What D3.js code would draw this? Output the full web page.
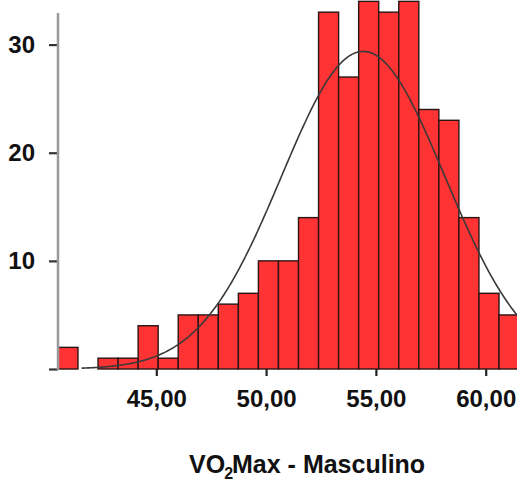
<!DOCTYPE html>
<html>
<head>
<meta charset="utf-8">
<script src="https://cdn.jsdelivr.net/npm/d3@7/dist/d3.min.js"></script>
<style>
  html, body { margin: 0; padding: 0; background: #fff; }
  svg { display: block; }
  text { font-family: "Liberation Sans", Arial, Helvetica, sans-serif; font-weight: bold; fill: #111; }
</style>
</head>
<body>
<svg id="chart" width="517" height="482"></svg>
<script>
// ---- data ----
const binStart = 40.52;      // lower edge of first bin (VO2Max units)
const binWidth = 0.913;      // width of each bin
const counts = [2, 0, 1, 1, 4, 1, 5, 5, 6, 7, 10, 10, 14, 33, 27, 34, 33, 34, 24, 23, 14, 7, 5];
const xTicks = [45, 50, 55, 60];
const yTicks = [0, 10, 20, 30];
const yTickLabels = ["", "10", "20", "30"];
const fitMean = 54.42;
const fitSd = 3.72;
const fitN = 300;
const curveRange = [41.6, 62.5];
const titleMain = "VO";
const titleSub = "2";
const titleRest = "Max - Masculino";

// ---- layout ----
const svg = d3.select("#chart");
const x = d3.scaleLinear().domain([45, 60]).range([156.3, 485.7]);
const y = d3.scaleLinear().domain([0, 30]).range([369, 44.6]);

const bins = counts.map((c, i) => ({ x0: binStart + i * binWidth, x1: binStart + (i + 1) * binWidth, count: c }));

// bars
svg.append("g").selectAll("rect")
  .data(bins.filter(b => b.count > 0))
  .join("rect")
  .attr("x", d => x(d.x0))
  .attr("y", d => y(d.count))
  .attr("width", d => x(d.x1) - x(d.x0))
  .attr("height", d => y(0) - y(d.count))
  .attr("fill", "#ff3333")
  .attr("stroke", "#2a1515")
  .attr("stroke-width", 1.4);

// normal curve
const pdf = v => Math.exp(-0.5 * ((v - fitMean) / fitSd) ** 2) / (fitSd * Math.sqrt(2 * Math.PI));
const curvePts = d3.range(0, 301).map(i => curveRange[0] + (curveRange[1] - curveRange[0]) * i / 300);
svg.append("path")
  .datum(curvePts)
  .attr("fill", "none")
  .attr("stroke", "#3a3a3a")
  .attr("stroke-width", 1.6)
  .attr("d", d3.line().x(v => x(v)).y(v => y(fitN * binWidth * pdf(v))).curve(d3.curveLinear));

// y axis
const yAxis = svg.append("g")
  .attr("transform", "translate(58,0)")
  .call(d3.axisLeft(y).tickValues(yTicks).tickSize(9).tickPadding(14)
    .tickFormat((d, i) => yTickLabels[i]));
yAxis.select(".domain").remove();
yAxis.selectAll(".tick line").attr("stroke", "#333").attr("stroke-width", 2.2);
yAxis.selectAll("text").style("font-size", "24px").attr("fill", "#111");
svg.append("line")
  .attr("x1", 58).attr("x2", 58)
  .attr("y1", 13).attr("y2", y(0) + 1)
  .attr("stroke", "#999").attr("stroke-width", 2.5);

// x axis
const fmt = d => d3.format(".2f")(d).replace(".", ",");
const xAxis = svg.append("g")
  .attr("transform", `translate(0,${y(0)})`)
  .call(d3.axisBottom(x).tickValues(xTicks).tickSize(7).tickPadding(14).tickFormat(fmt));
xAxis.select(".domain").remove();
xAxis.selectAll(".tick line").attr("stroke", "#222").attr("stroke-width", 2.2);
xAxis.selectAll("text").style("font-size", "24px").attr("fill", "#111");

// title
const t = svg.append("text")
  .attr("x", 189).attr("y", 473)
  .style("font-size", "25px");
t.append("tspan").text(titleMain);
t.append("tspan").text(titleSub).style("font-size", "16px").attr("dy", 6).attr("dx", -1);
t.append("tspan").text(titleRest).attr("dy", -6).attr("dx", -1);
</script>
</body>
</html>
